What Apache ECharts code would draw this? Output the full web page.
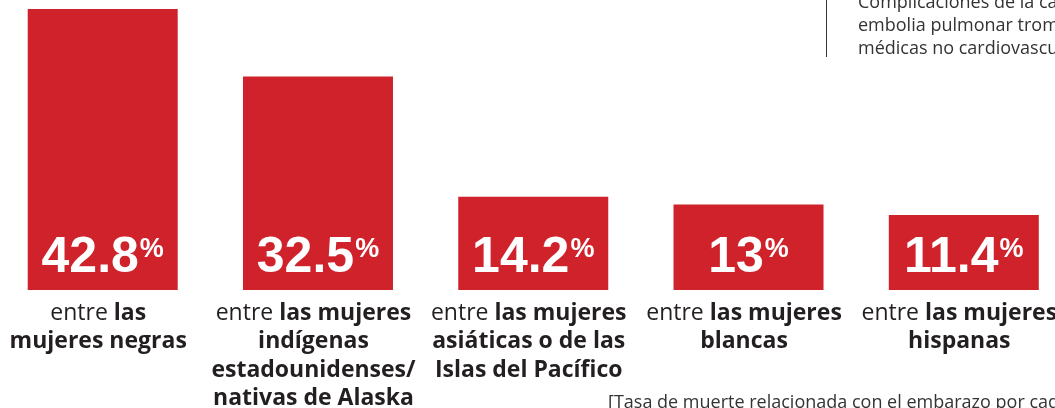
<!DOCTYPE html>
<html><head><meta charset="utf-8">
<script src="https://cdn.jsdelivr.net/npm/echarts@6/dist/echarts.min.js"></script>
<style>html,body{margin:0;padding:0;background:#fff}#c{width:1055px;height:408px}</style>
</head><body><div id="c"></div>
<script>
const categories = ['negras', 'indigenas', 'asiaticas', 'blancas', 'hispanas'];
const values = [42.8, 32.5, 14.2, 13, 11.4];
const labelLines = [
  ['{n|entre }{b|las}', '{b|mujeres negras}'],
  ['{n|entre }{b|las mujeres}', '{b|indígenas}', '{b|estadounidenses/}', '{b|nativas de Alaska}'],
  ['{n|entre }{b|las mujeres}', '{b|asiáticas o de las}', '{b|Islas del Pacífico}'],
  ['{n|entre }{b|las mujeres}', '{b|blancas}'],
  ['{n|entre }{b|las mujeres}', '{b|hispanas}']
];
const noteLines = ['Complicaciones de la cardiomiopatía,', 'embolia pulmonar trombótica,', 'médicas no cardiovasculares'];
const footNote = '[Tasa de muerte relacionada con el embarazo por cada 100,000 nacimientos vivos]';

const FONT = 'Open Sans';
const chart = echarts.init(document.getElementById('c'), null, {renderer: 'canvas'});
chart.setOption({
  animation: false,
  grid: {left: 102.7, width: 861.1, top: 1, bottom: 118, containLabel: false, outerBoundsMode: 'none'},
  xAxis: {
    type: 'category', data: categories, boundaryGap: false,
    axisLine: {show: false}, axisTick: {show: false},
    axisLabel: {
      interval: 0, margin: 9, hideOverlap: false, padding: [0, 9, 0, 0],
      formatter: (v, i) => labelLines[i].join('\n'),
      rich: {
        n: {fontFamily: FONT, fontSize: 23, fontWeight: 'normal', color: '#231f20', lineHeight: 28.5},
        b: {fontFamily: FONT, fontSize: 23, fontWeight: 'bold', color: '#231f20', lineHeight: 28.5}
      }
    }
  },
  yAxis: {type: 'value', min: 0, max: 44, show: false},
  series: [{
    type: 'bar', data: values, barWidth: 150,
    itemStyle: {color: '#cf222b'},
    label: {
      show: true, position: 'insideBottom', distance: 6,
      formatter: p => '{v|' + p.value + '}{p|%}',
      rich: {
        v: {fontFamily: 'Liberation Sans', fontWeight: 'bold', fontSize: 50, color: '#fff', lineHeight: 52},
        p: {fontFamily: 'Liberation Sans', fontWeight: 'bold', fontSize: 27, color: '#fff', verticalAlign: 'top', lineHeight: 52, padding: [4,0,0,1]}
      }
    }
  }],
  graphic: [
    {type: 'line', shape: {x1: 826.5, y1: 0, x2: 826.5, y2: 57}, style: {stroke: '#333', lineWidth: 1}},
    {type: 'text', left: 858, top: -9, style: {text: noteLines.join('\n'), fontFamily: FONT, fontSize: 18, lineHeight: 23, fill: '#333'}},
    {type: 'text', left: 608, top: 392, style: {text: footNote, fontFamily: FONT, fontSize: 18, lineHeight: 22, fill: '#333'}}
  ]
});
</script></body></html>
